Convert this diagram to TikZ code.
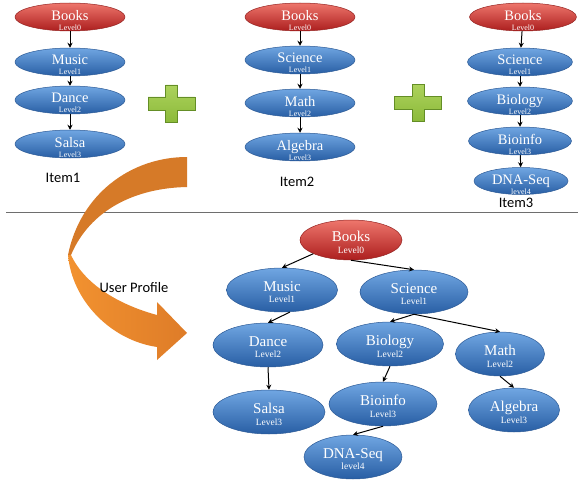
\documentclass[tikz,border=0pt]{standalone}
\usepackage{fontspec}
\setmainfont{Liberation Serif}
\newfontfamily\labelfont{Carlito}
\usetikzlibrary{shapes.geometric,arrows.meta}

\definecolor{ballblueT}{RGB}{112,166,226}
\definecolor{ballblueM}{RGB}{68,128,200}
\definecolor{ballblueB}{RGB}{40,94,164}
\definecolor{ballblueD}{RGB}{44,90,150}
\definecolor{ballredT}{RGB}{238,118,108}
\definecolor{ballredM}{RGB}{214,56,50}
\definecolor{ballredB}{RGB}{172,30,30}
\definecolor{ballredD}{RGB}{150,36,34}
\definecolor{plusgreen}{RGB}{140,186,58}
\definecolor{plusgreenL}{RGB}{172,210,92}
\definecolor{plusgreenD}{RGB}{100,142,38}
\definecolor{bandtop}{RGB}{214,122,40}
\definecolor{bandlight}{RGB}{242,146,48}
\definecolor{banddark}{RGB}{222,124,40}
\definecolor{rulegray}{RGB}{110,110,110}

% two-line ball text: name, level; name size, level size, line gap, drop
\newcommand{\ballText}[6]{\smash{\makebox[0pt]{\raisebox{-#6}{\begin{tabular}{@{}c@{}}%
  {\fontsize{#3}{#3}\selectfont #1}\\[#5]{\fontsize{#4}{#4}\selectfont #2}\end{tabular}}}}}
\newcommand{\smallText}[2]{\ballText{#1}{#2}{14.5pt}{8pt}{-2pt}{7.5pt}}
\newcommand{\bigText}[2]{\ballText{#1}{#2}{15pt}{9.5pt}{-0.5pt}{6.5pt}}

\tikzset{
  ball/.style={ellipse, inner sep=0pt, text=white, line width=0.5pt},
  blueball/.style={ball, draw=ballblueD, top color=ballblueT, middle color=ballblueM, bottom color=ballblueB},
  redball/.style={ball, draw=ballredD, top color=ballredT, middle color=ballredM, bottom color=ballredB},
  smallball/.style={minimum width=110pt, minimum height=28pt},
  bigball/.style={minimum width=108pt, minimum height=44pt},
  link/.style={-{Stealth[length=5pt,width=5pt]}, line width=1pt, black},
  itemlabel/.style={font=\labelfont\fontsize{14.5}{16}\selectfont, text=black},
}

% green plus sign centred at #1,#2
\newcommand{\plusSign}[2]{%
  \begin{scope}[shift={(#1,#2)}]
    \path[draw=plusgreenD, line width=0.6pt, top color=plusgreenL, bottom color=plusgreen]
      (-6,-18.5) -- (6,-18.5) -- (6,-6.5) -- (23.5,-6.5) -- (23.5,6.5) -- (6,6.5)
      -- (6,18.5) -- (-6,18.5) -- (-6,6.5) -- (-23.5,6.5) -- (-23.5,-6.5) -- (-6,-6.5) -- cycle;
  \end{scope}}

\begin{document}
\begin{tikzpicture}[x=1pt,y=-1pt]
\useasboundingbox (0,0) rectangle (578,484);

% ---------- Item 1 ----------
\node[redball,smallball]  (a0) at (70,17)  {\smallText{Books}{Level0}};
\node[blueball,smallball] (a1) at (70,62)  {\smallText{Music}{Level1}};
\node[blueball,smallball] (a2) at (70,100) {\smallText{Dance}{Level2}};
\node[blueball,smallball] (a3) at (70,144) {\smallText{Salsa}{Level3}};
\node[itemlabel] (i1) at (63,178) {Item1};
\draw[link] (a0) -- (a1);
\draw[link] (a1) -- (a2);
\draw[link] (a2) -- (a3);

% ---------- Item 2 ----------
\node[redball,smallball]  (b0) at (300,17)  {\smallText{Books}{Level0}};
\node[blueball,smallball] (b1) at (300,60)  {\smallText{Science}{Level1}};
\node[blueball,smallball] (b2) at (300,103) {\smallText{Math}{Level2}};
\node[blueball,smallball] (b3) at (300,147) {\smallText{Algebra}{Level3}};
\node[itemlabel] (i2) at (297,182) {Item2};
\draw[link] (b0) -- (b1);
\draw[link] (b1) -- (b2);
\draw[link] (b2) -- (b3);

% ---------- Item 3 ----------
\node[redball,smallball,minimum width=107pt]  (c0) at (523,17)  {\smallText{Books}{Level0}};
\node[blueball,smallball,minimum width=105pt] (c1) at (520,62)  {\smallText{Science}{Level1}};
\node[blueball,smallball,minimum width=105pt] (c2) at (520,101) {\smallText{Biology}{Level2}};
\node[blueball,smallball,minimum width=103pt] (c3) at (520,141) {\smallText{Bioinfo}{Level3}};
\node[blueball,smallball,minimum width=94pt,minimum height=27pt] (c4) at (521,181) {\smallText{DNA-Seq}{level4}};
\node[itemlabel] (i3) at (516,203) {Item3};
\draw[link] (c0) -- (c1);
\draw[link] (c1) -- (c2);
\draw[link] (c2) -- (c3);
\draw[link] (c3) -- (c4);

% ---------- plus signs ----------
\plusSign{171.5}{103.5}
\plusSign{418}{103}

% ---------- separator ----------
\draw[rulegray, line width=0.9pt] (6,212) -- (578,212);

% ---------- curved ribbon arrow ----------
\fill[bandtop]
  (187,157) .. controls (130,157) and (80,195) .. (68,255)
  -- (71,255) .. controls (90,210) and (135,188) .. (187,187) -- cycle;
\path[left color=bandlight, right color=banddark]
  (68,255) .. controls (72,300) and (110,340) .. (157,347)
  -- (157,360) -- (187,333) -- (157,302) -- (157,315)
  .. controls (120,305) and (85,285) .. (71,255) -- cycle;
\node[itemlabel] (up) at (134,288) {User Profile};

% ---------- merged profile tree ----------
\node[redball,minimum width=102pt,minimum height=40pt] (p0) at (351,240) {\bigText{Books}{Level0}};
\node[blueball,bigball,minimum width=111pt] (p1) at (282,290) {\bigText{Music}{Level1}};
\node[blueball,bigball] (p2) at (414,292) {\bigText{Science}{Level1}};
\node[blueball,bigball,minimum width=110pt] (p3) at (268,345) {\bigText{Dance}{Level2}};
\node[blueball,bigball,minimum width=107pt] (p4) at (390,344) {\bigText{Biology}{Level2}};
\node[blueball,bigball,minimum width=89pt] (p5) at (500,354) {\bigText{Math}{Level2}};
\node[blueball,bigball,minimum width=112pt] (p6) at (269,412) {\bigText{Salsa}{Level3}};
\node[blueball,bigball] (p7) at (383,404) {\bigText{Bioinfo}{Level3}};
\node[blueball,bigball,minimum width=91pt] (p8) at (514,410) {\bigText{Algebra}{Level3}};
\node[blueball,bigball,minimum width=98pt] (p9) at (353,457) {\bigText{DNA-Seq}{level4}};

\draw[link] (p0.200) -- (p1.north);
\draw[link] (p0.south) -- (p2.north);
\draw[link] (p1.290) -- (p3.north);
\draw[link] (p3.south) -- (p6.north);
\draw[link] (p2.south) -- (p4.north);
\draw[link] (p2.south) -- (p5.north);
\draw[link] (p4.south) -- (p7.north);
\draw[link] (p5.south) -- (p8.north);
\draw[link] (p7.south) -- (p9.north);
\end{tikzpicture}
\end{document}
